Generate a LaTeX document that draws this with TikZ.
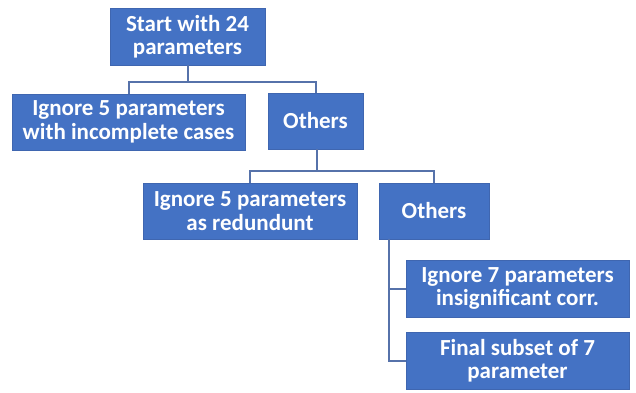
\documentclass[tikz,border=0pt]{standalone}
\usepackage{fontspec}
\setmainfont{Carlito}
\definecolor{boxblue}{HTML}{4472C4}
\definecolor{boxedge}{HTML}{3F66B0}
\definecolor{linkblue}{HTML}{5672AA}
\begin{document}
\begin{tikzpicture}[x=1pt,y=-1pt,
  blk/.style={draw=boxedge,line width=0.8pt,fill=boxblue,text=white,font=\fontsize{23}{23.5}\selectfont\bfseries,align=center,inner sep=0pt},
  link/.style={draw=linkblue,line width=2pt}]
\useasboundingbox (0,0) rectangle (636,392);
\node[blk,minimum width=155,minimum height=57] (start) at (187.5,36.5) {Start with 24\\parameters};
\node[blk,minimum width=233,minimum height=56] (inc) at (128.5,122) {Ignore 5 parameters\\with incomplete cases};
\node[blk,minimum width=95,minimum height=56] (oth1) at (315.5,121) {Others};
\node[blk,minimum width=214,minimum height=56] (red) at (250,211) {Ignore 5 parameters\\as redundunt};
\node[blk,minimum width=110,minimum height=56] (oth2) at (434,211) {Others};
\node[blk,minimum width=223,minimum height=57] (ins) at (517.5,288.5) {Ignore 7 parameters\\insignificant corr.};
\node[blk,minimum width=223,minimum height=57] (fin) at (517.5,360.5) {Final subset of 7\\parameter};
\coordinate (j1) at (188,82);
\coordinate (j2) at (317,171);
\coordinate (t3) at (389,239);
\draw[link] (start.south -| j1) -- (j1);
\draw[link] (inc.north) |- (j1) -| (oth1.north);
\draw[link] (oth1.south -| j2) -- (j2);
\draw[link] (red.north) |- (j2) -| (oth2.north);
\draw[link] (t3) |- (ins.west);
\draw[link] (t3) |- (fin.west);
\end{tikzpicture}
\end{document}
